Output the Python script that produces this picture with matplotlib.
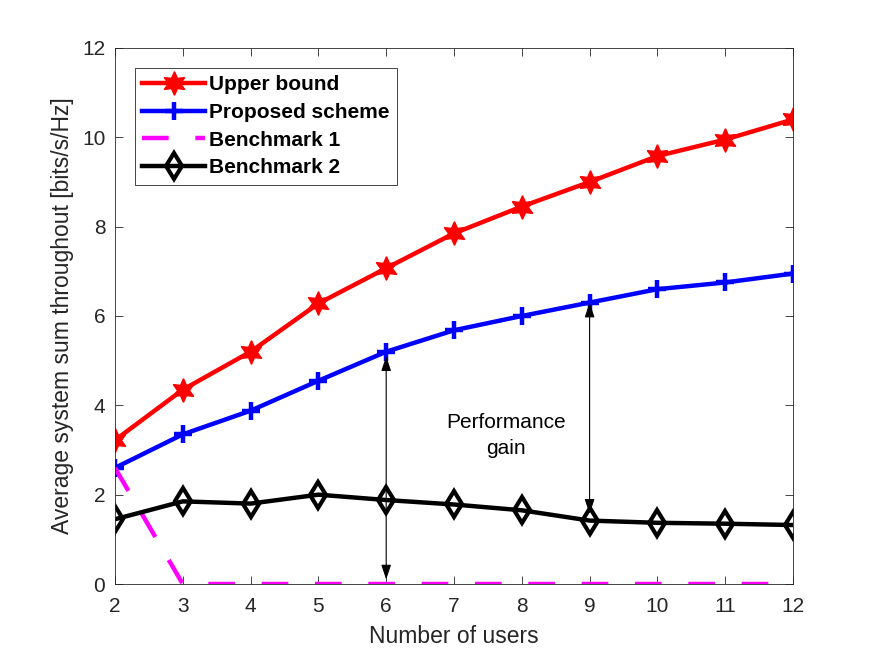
import numpy as np
import matplotlib.pyplot as plt

plt.rcParams['font.family'] = ['Liberation Sans', 'DejaVu Sans']

# Data
users = [2, 3, 4, 5, 6, 7, 8, 9, 10, 11, 12]
upper_bound = [3.22, 4.35, 5.2, 6.28, 7.07, 7.85, 8.45, 9.0, 9.58, 9.95, 10.4]
proposed = [2.6, 3.35, 3.88, 4.55, 5.2, 5.68, 6.0, 6.3, 6.6, 6.75, 6.95]
benchmark1 = [2.6, 0, 0, 0, 0, 0, 0, 0, 0, 0, 0]
benchmark2 = [1.45, 1.85, 1.8, 2.0, 1.88, 1.78, 1.65, 1.42, 1.37, 1.35, 1.32]

fig = plt.figure(figsize=(8.75, 6.57), dpi=100)
ax = fig.add_axes([0.1314, 0.1111, 0.7749, 0.8159])

# six-pointed star like MATLAB's hexagram
hexagram = (6, 1, 0)

ax.plot(users, upper_bound, color='red', lw=3.2, marker=hexagram,
        markersize=17, label='Upper bound')
ax.plot(users, proposed, color='blue', lw=3.2, marker='+',
        markersize=13, markeredgewidth=3.2, label='Proposed scheme')
ax.plot(users, benchmark1, color='magenta', lw=3.2, dashes=(6, 6),
        label='Benchmark 1')
ax.plot(users, benchmark2, color='black', lw=3.2, marker='d',
        markersize=13, markeredgewidth=3, markerfacecolor='none',
        label='Benchmark 2')

# performance gain arrows
arrow_props = dict(arrowstyle='<|-|>,head_length=0.9,head_width=0.3',
                   color='black', lw=0.8, shrinkA=0, shrinkB=0)
ax.annotate('', xy=(users[4], proposed[4] - 0.1), xytext=(users[4], 0.1),
            arrowprops=arrow_props)
ax.annotate('', xy=(users[7], proposed[7]), xytext=(users[7], benchmark2[7] + 0.15),
            arrowprops=arrow_props)
ax.text(7.77, 3.33, 'Performance\ngain', ha='center', va='center',
        fontsize=15, linespacing=1.5)

ax.set_xlim(2, 12)
ax.set_ylim(0, 12)
ax.set_xticks(range(2, 13))
ax.set_yticks(range(0, 13, 2))
ax.tick_params(direction='in', top=True, right=True, labelsize=15,
               length=6, width=0.6, color='#262626', labelcolor='#262626')
ax.tick_params(axis='x', pad=9)
ax.tick_params(axis='y', pad=7)
for s in ax.spines.values():
    s.set_linewidth(0.6)
    s.set_color('#262626')

ax.set_xlabel('Number of users', fontsize=16.5, color='#262626', labelpad=7)
ax.set_ylabel('Average system sum throughout [bits/s/Hz]', fontsize=16.5,
              color='#262626', labelpad=6)

leg = ax.legend(loc='upper left', bbox_to_anchor=(0.0295, 0.963),
                borderaxespad=0, prop={'weight': 'bold', 'size': 15},
                handlelength=3.0, borderpad=0.35, labelspacing=0.42,
                handletextpad=0.2, fancybox=False, edgecolor='#262626',
                framealpha=1)
leg.get_frame().set_linewidth(0.6)

fig.savefig('out.png', dpi=100)
